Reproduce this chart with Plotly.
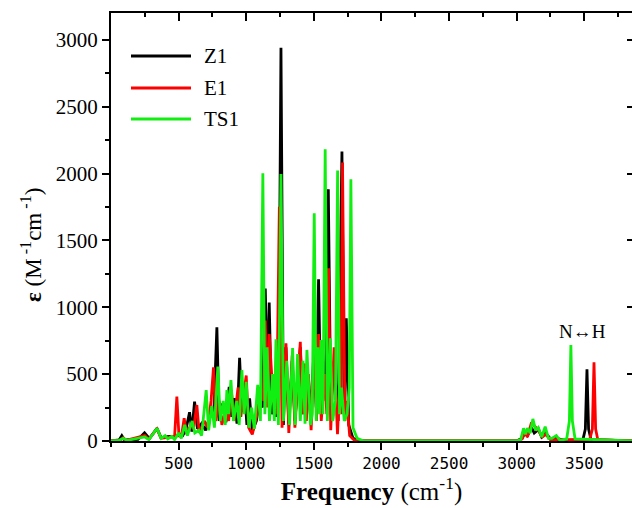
import plotly.graph_objects as go

# ---- data (peak / valley vertices) ----
z1_freq = [0, 60, 80, 100, 200, 248, 285, 340, 370, 430, 470, 500, 530, 555, 581, 598, 618, 640, 670, 700,
           730, 760, 783, 800, 825, 850, 874, 893, 912, 932, 951, 968, 985, 1005, 1025, 1045, 1075, 1100,
           1120, 1141, 1155, 1170, 1188, 1205, 1222, 1240, 1257, 1275, 1294, 1315, 1340, 1360, 1400, 1420,
           1450, 1475, 1500, 1518, 1535, 1550, 1565, 1590, 1607, 1625, 1650, 1680, 1708, 1724, 1740, 1758,
           1790, 1850, 3000, 3040, 3060, 3080, 3110, 3130, 3162, 3185, 3215, 3250, 3300, 3350, 3490, 3508,
           3520, 3532, 3550, 3900]
z1_eps = [0, 8, 40, 8, 12, 62, 18, 95, 25, 35, 30, 45, 40, 90, 215, 70, 294, 90, 130, 80,
          180, 200, 850, 150, 280, 140, 405, 180, 320, 130, 622, 220, 420, 120, 319, 70, 150, 320,
          250, 1140, 400, 1035, 200, 350, 180, 400, 2940, 120, 700, 130, 600, 150, 700, 200,
          550, 200, 650, 250, 1209, 350, 700, 300, 1882, 250, 600, 150, 2164, 200, 918, 120,
          20, 0, 0, 20, 60, 40, 100, 60, 87, 30, 60, 15, 20, 5, 10, 90,
          536, 90, 10, 0]

e1_freq = [0, 70, 90, 110, 250, 280, 340, 370, 440, 470, 487, 503, 525, 541, 560, 590, 610, 635, 652, 690,
           715, 740, 758, 775, 800, 820, 850, 870, 890, 910, 940, 960, 1000, 1018, 1045, 1080, 1100, 1125,
           1141, 1158, 1170, 1200, 1225, 1245, 1265, 1294, 1315, 1340, 1360, 1400, 1415, 1430, 1445, 1460,
           1480, 1505, 1520, 1535, 1555, 1580, 1596, 1609, 1625, 1650, 1675, 1690, 1700, 1712, 1730, 1745,
           1765, 1800, 1850, 3000, 3040, 3060, 3080, 3110, 3125, 3160, 3190, 3215, 3250, 3300, 3540, 3560,
           3572, 3584, 3600, 3900]
e1_eps = [0, 5, 25, 5, 40, 15, 90, 20, 30, 25, 332, 30, 60, 170, 50, 120, 90, 269, 60, 150,
          100, 300, 551, 150, 300, 120, 250, 150, 380, 150, 400, 180, 490, 100, 50, 200, 400, 300,
          900, 250, 800, 300, 200, 1752, 100, 731, 60, 640, 100, 742, 200, 580, 150, 500,
          80, 700, 150, 800, 150, 500, 200, 1292, 80, 700, 50, 400, 200, 2082, 150, 300,
          40, 5, 0, 0, 15, 60, 30, 140, 120, 80, 30, 50, 10, 10, 10, 90,
          589, 90, 10, 0]

ts1_freq = [0, 60, 90, 120, 250, 280, 341, 370, 400, 420, 450, 470, 500, 520, 545, 565, 600, 620, 650, 670,
            704, 722, 745, 765, 790, 808, 830, 845, 857, 870, 887, 905, 930, 948, 968, 985, 1000, 1020,
            1040, 1060, 1085, 1105, 1123, 1138, 1155, 1172, 1195, 1208, 1220, 1238, 1257, 1275, 1300, 1320,
            1343, 1362, 1380, 1400, 1420, 1435, 1449, 1475, 1488, 1503, 1518, 1530, 1542, 1553, 1568, 1584,
            1600, 1621, 1640, 1660, 1676, 1690, 1705, 1725, 1745, 1762, 1774, 1790, 1820, 1870, 3000, 3030,
            3051, 3065, 3080, 3100, 3120, 3140, 3160, 3185, 3211, 3235, 3260, 3293, 3320, 3370, 3390, 3401,
            3412, 3432, 3900]
ts1_eps = [0, 5, 20, 5, 30, 10, 95, 20, 40, 15, 35, 10, 60, 20, 120, 40, 150, 60, 80, 40,
           381, 80, 260, 100, 556, 150, 300, 120, 381, 200, 456, 150, 300, 120, 531, 200, 443, 100,
           250, 90, 420, 150, 2002, 200, 700, 150, 500, 150, 760, 120, 1997, 150, 600, 120,
           695, 120, 650, 150, 600, 130, 681, 120, 200, 1703, 150, 700, 200, 755, 200, 2182,
           150, 768, 150, 300, 2022, 200, 400, 150, 200, 400, 1957, 100, 20, 0, 0, 10,
           95, 50, 95, 60, 165, 80, 100, 30, 107, 20, 20, 40, 5, 15, 150, 718,
           150, 15, 0]

series_names = ["Z1", "E1", "TS1"]
series_colors = ["#000000", "#ff0000", "#11ee11"]

x_tick_vals = [500, 1000, 1500, 2000, 2500, 3000, 3500]
y_tick_vals = [0, 500, 1000, 1500, 2000, 2500, 3000]
x_range = [0, 3853]
y_range = [0, 3200]

# ---- figure ----
W, H = 632, 508
ML, MR, MT, MB = 111, 0, 13, 67
PW, PH = W - ML - MR, H - MT - MB

fig = go.Figure()
for name, fx, fy, col in zip(series_names, [z1_freq, e1_freq, ts1_freq], [z1_eps, e1_eps, ts1_eps], series_colors):
    fig.add_trace(go.Scatter(x=fx, y=fy, mode="lines", name=name,
                             line=dict(color=col, width=2.8), showlegend=False))

# invisible trace to carry the mirrored axes
fig.add_trace(go.Scatter(x=[x_range[0]], y=[y_range[0]], xaxis="x2", yaxis="y2",
                         mode="markers", marker=dict(opacity=0), showlegend=False, hoverinfo="skip"))

def px2paper(px, py):
    return (px - ML) / PW, (H - MB - py) / PH

# manual legend (long line samples like the reference)
legend_rows = [56, 88, 119]
for name, col, ry in zip(series_names, series_colors, legend_rows):
    x0, y0 = px2paper(131, ry)
    x1, _ = px2paper(191, ry)
    fig.add_shape(type="line", xref="paper", yref="paper", x0=x0, x1=x1, y0=y0, y1=y0,
                  line=dict(color=col, width=3))
    tx, ty = px2paper(202, ry)
    fig.add_annotation(xref="paper", yref="paper", x=tx, y=ty, text=name, showarrow=False,
                       xanchor="left", yanchor="middle",
                       font=dict(family="Liberation Serif", size=21, color="black"))

# N<->H label
fig.add_annotation(x=3485, y=820, xref="x", yref="y", text="N\u2194H", showarrow=False,
                   font=dict(family="Liberation Serif", size=19, color="black"))

# y title as annotation
tx, ty = px2paper(31, 245)
fig.add_annotation(xref="paper", yref="paper", x=tx, y=ty, textangle=-90,
                   text="<b>\u03b5</b> (M<sup> -1</sup>cm<sup> -1</sup>)", showarrow=False,
                   xanchor="center", yanchor="middle",
                   font=dict(family="Liberation Serif", size=23, color="black"))

axis_common = dict(showgrid=False, zeroline=False, linecolor="black", linewidth=2.2)

fig.update_layout(
    width=W, height=H,
    margin=dict(l=ML, r=MR, t=MT, b=MB, pad=0),
    paper_bgcolor="white", plot_bgcolor="white",
    showlegend=False,
    xaxis=dict(range=x_range, tickvals=x_tick_vals, ticks="outside", ticklen=7, tickwidth=2,
               tickcolor="black", showline=True, mirror=True,
               minor=dict(ticks="outside", ticklen=4, tickwidth=2, tickcolor="black", dtick=250, tick0=0),
               tickfont=dict(family="DejaVu Sans Mono", size=16, color="black"),
               title=dict(text="<b>Frequency</b> (cm<sup>-1</sup>)", standoff=7,
                          font=dict(family="Liberation Serif", size=25, color="black")),
               **axis_common),
    yaxis=dict(range=y_range, tickvals=y_tick_vals, ticks="outside", ticklen=7, tickwidth=2,
               tickcolor="black", showline=True,
               minor=dict(ticks="outside", ticklen=4, tickwidth=2, tickcolor="black", dtick=250, tick0=0),
               tickfont=dict(family="Liberation Serif", size=21, color="black"),
               **axis_common),
    xaxis2=dict(range=x_range, overlaying="x", side="top", tickvals=x_tick_vals, ticks="inside",
                ticklen=8, tickwidth=2, tickcolor="black", showticklabels=False, showline=False,
                minor=dict(ticks="inside", ticklen=4, tickwidth=2, tickcolor="black", dtick=250, tick0=0),
                showgrid=False, zeroline=False),
    yaxis2=dict(range=y_range, overlaying="y", side="right", tickvals=y_tick_vals, ticks="inside",
                ticklen=5, tickwidth=2, tickcolor="black", showticklabels=False, showline=False,
                showgrid=False, zeroline=False),
)

fig.write_html("out.html")
